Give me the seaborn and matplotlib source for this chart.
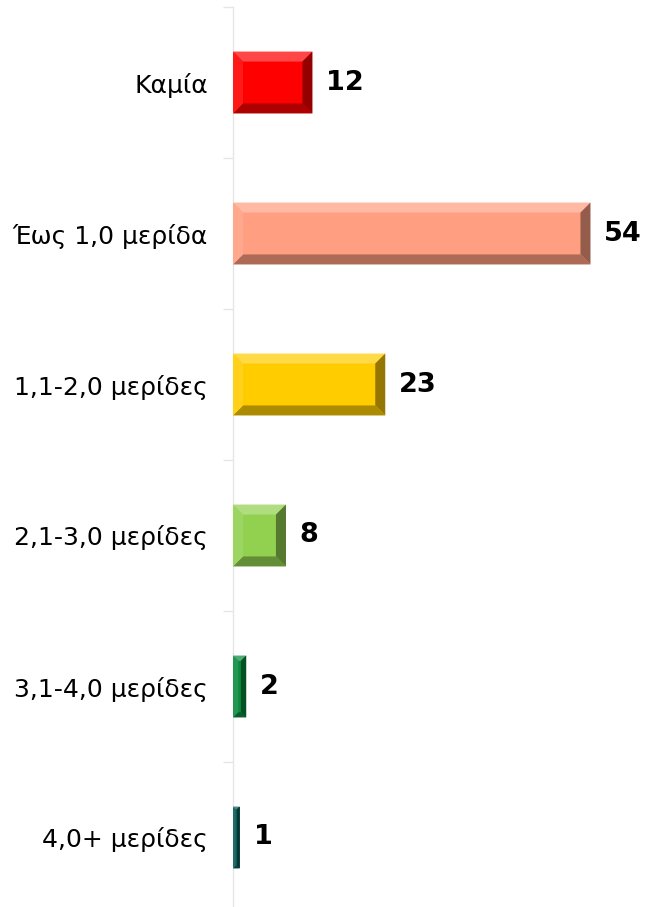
import matplotlib
matplotlib.use("Agg")
import matplotlib.pyplot as plt
import matplotlib.colors as mcolors
from matplotlib.patches import Polygon
import seaborn as sns
import numpy as np

labels = ["Καμία", "Έως 1,0 μερίδα", "1,1-2,0 μερίδες", "2,1-3,0 μερίδες",
          "3,1-4,0 μερίδες", "4,0+ μερίδες"]
values = [12, 54, 23, 8, 2, 1]
colors = ["#FF0000", "#FF9E80", "#FFCC00", "#92D050", "#0B8A3E", "#0C5C57"]

sns.set_style("white")
plt.rcParams["font.family"] = ["DejaVu Sans"]
plt.rcParams["text.color"] = "black"
plt.rcParams["ytick.color"] = "black"

fig = plt.figure(figsize=(6.46, 9.07), dpi=100)
ax = fig.add_axes([233 / 646, -6 / 907, 413 / 646, 906 / 907])

sns.barplot(x=values, y=labels, hue=labels, palette=colors, legend=False,
            width=0.41, saturation=1, linewidth=0, ax=ax)

ax.set_xlim(0, 413 / 6.62)
ax.set_ylim(5.5, -0.5)

# bevel effect on each bar, built from the bar geometry
def mix(c, other, t):
    a = np.array(mcolors.to_rgb(c))
    b = np.array(mcolors.to_rgb(other))
    return tuple(a * (1 - t) + b * t)

inv = ax.transData.inverted()
for patch, col, val in zip(ax.patches, colors, values):
    x0, y0 = patch.get_x(), patch.get_y()
    w, h = patch.get_width(), patch.get_height()
    (px0, py0), (px1, py1) = ax.transData.transform([(x0, y0), (x0 + w, y0 + h)])
    left, right = min(px0, px1), max(px0, px1)
    bot, top = min(py0, py1), max(py0, py1)
    b = min(10, (right - left) / 2.5, (top - bot) / 3)
    outer = [(left, top), (right, top), (right, bot), (left, bot)]
    inner = [(left + b, top - b), (right - b, top - b), (right - b, bot + b), (left + b, bot + b)]
    faces = [
        ([outer[0], outer[1], inner[1], inner[0]], mix(col, "white", 0.28)),
        ([outer[1], outer[2], inner[2], inner[1]], mix(col, "black", 0.42)),
        ([outer[2], outer[3], inner[3], inner[2]], mix(col, "black", 0.32)),
        ([outer[3], outer[0], inner[0], inner[3]], mix(col, "white", 0.1)),
    ]
    for pts, fc in faces:
        ax.add_patch(Polygon(inv.transform(pts), closed=True, facecolor=fc,
                             edgecolor="none", zorder=3))
    ax.annotate(str(val), (x0 + w, y0 + h / 2),
                xytext=(10, 0), textcoords="offset points", ha="left", va="center",
                fontsize=19.5, fontweight="bold", color="black")

for s in ["top", "right", "bottom"]:
    ax.spines[s].set_visible(False)
ax.spines["left"].set_color("#E6E6E6")
ax.spines["left"].set_linewidth(1)

ax.set_xticks([])
ax.set_xlabel("")
ax.set_ylabel("")
ax.set_yticks(range(len(labels)))
ax.set_yticklabels(labels, fontsize=18, color="black")
ax.set_yticks(np.arange(-0.5, len(labels) + 0.5, 1), minor=True)
ax.tick_params(axis="y", which="major", length=0, pad=18)
ax.tick_params(axis="y", which="minor", length=7, color="#E6E6E6", width=1, left=True)

fig.savefig("out.png", dpi=100)
